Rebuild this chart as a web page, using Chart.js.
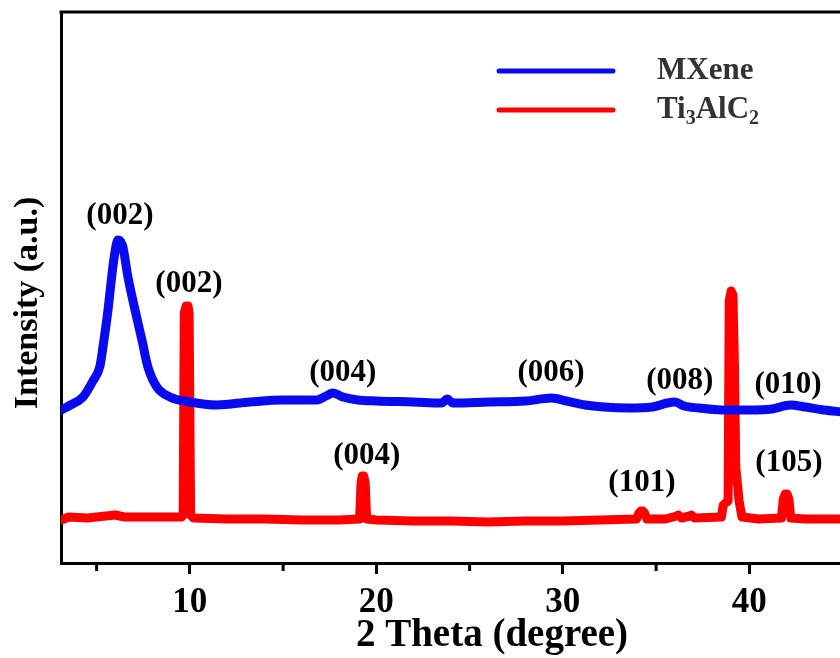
<!DOCTYPE html>
<html>
<head>
<meta charset="utf-8">
<script src="https://cdn.jsdelivr.net/npm/chart.js@4.4.1/dist/chart.umd.min.js"></script>
<style>
  html, body { margin: 0; padding: 0; background: #fff; }
  #wrap { width: 840px; height: 658px; position: relative; }
</style>
</head>
<body>
<div id="wrap"><canvas id="xrd"></canvas></div>
<script>
// MXene pattern (2 theta, intensity a.u.)
const mxeneTheta = [3.1, 3.6, 4.27, 4.8, 5.18, 5.34, 5.61, 5.87, 6.05, 6.15, 6.3, 6.41, 6.68, 7.06, 7.43, 7.75, 8.23, 8.93, 10.0, 11.45, 13.22, 14.99, 16.81, 17.3, 17.67, 18.2, 19.0, 20.0, 22.0, 23.5, 23.8, 24.1, 26.0, 28.0, 29.4, 30.2, 31.2, 32.2, 33.5, 34.8, 35.6, 36.0, 36.5, 37.3, 38.5, 40.0, 41.2, 42.2, 43.0, 44.0, 45.0];
const mxeneIntensity = [153, 158, 166, 182, 197, 216, 253, 296, 318, 323, 321, 316, 286, 253, 223, 196, 176, 166, 161, 158, 161, 163, 163, 167, 170, 166, 163, 162, 161, 160, 164, 160, 161, 162, 165, 162, 158, 156, 155, 156, 160, 161, 157, 155, 153, 153, 154, 158, 156, 153, 151];

// Ti3AlC2 pattern
const maxTheta = [3.1, 3.5, 4.5, 5.5, 6.0, 6.5, 7.5, 8.5, 9.55, 9.64, 9.7, 9.8, 9.9, 9.96, 10.04, 10.2, 12.0, 14.0, 16.0, 18.0, 19.1, 19.18, 19.24, 19.32, 19.4, 19.48, 20.0, 22.0, 24.0, 26.0, 28.0, 30.0, 32.0, 33.95, 34.08, 34.18, 34.28, 34.38, 34.5, 35.5, 36.1, 36.2, 36.35, 36.8, 36.9, 37.05, 38.5, 38.6, 38.72, 38.86, 38.92, 39.02, 39.12, 39.2, 39.27, 39.45, 39.6, 40.5, 41.72, 41.82, 41.92, 42.02, 42.12, 42.22, 43.0, 45.0];
const maxIntensity = [43, 46, 45, 47, 48, 46, 46, 46, 46, 48, 250, 257, 257, 250, 48, 45, 44, 44, 43, 43, 44, 80, 87, 87, 80, 44, 43, 42, 42, 41, 42, 42, 43, 44, 50, 52, 52, 50, 44, 44, 47, 48, 45, 47, 48, 45, 46, 58, 60, 62, 262, 272, 268, 200, 96, 62, 46, 44, 45, 64, 69, 69, 64, 45, 44, 44];

// peak indices: text, 2 theta of label, label height (a.u.)
const mxenePeaks = ['(002)', '(004)', '(006)', '(008)', '(010)'];
const mxenePeakTheta = [6.25, 18.2, 29.37, 36.27, 42.07];
const mxenePeakLevel = [347, 190, 190, 182, 178];
const maxPeaks = ['(002)', '(004)', '(101)', '(105)'];
const maxPeakTheta = [9.95, 19.49, 34.24, 42.12];
const maxPeakLevel = [279, 107, 80, 100];

const xTitle = '2 Theta (degree)';
const yTitle = 'Intensity (a.u.)';
const xMin = 3.09, xMax = 44.86;

const blue = '#0a0af0';
const red = '#ff0000';
const serif = '"Liberation Serif", "Times New Roman", serif';

let pts = (xs, ys) => xs.map((x, i) => ({ x: x, y: ys[i] }));

const extras = {
  id: 'extras',
  afterDraw(chart) {
    const ctx = chart.ctx;
    const a = chart.chartArea;
    const xs = chart.scales.x;
    const ys = chart.scales.y;
    ctx.save();
    // top frame line
    ctx.strokeStyle = '#000';
    ctx.lineWidth = 3;
    ctx.beginPath();
    ctx.moveTo(a.left - 1.5, a.top);
    ctx.lineTo(a.right, a.top);
    ctx.stroke();
    // minor ticks
    xs.ticks.forEach(t => {
      if (t.value % 10 !== 0) {
        let px = xs.getPixelForValue(t.value);
        ctx.beginPath();
        ctx.moveTo(px, a.bottom);
        ctx.lineTo(px, a.bottom + 8);
        ctx.stroke();
      }
    });
    // peak labels
    ctx.fillStyle = '#000';
    ctx.font = 'bold 31px ' + serif;
    ctx.textAlign = 'center';
    ctx.textBaseline = 'middle';
    mxenePeaks.forEach((s, i) => {
      ctx.fillText(s, xs.getPixelForValue(mxenePeakTheta[i]), ys.getPixelForValue(mxenePeakLevel[i]));
    });
    maxPeaks.forEach((s, i) => {
      ctx.fillText(s, xs.getPixelForValue(maxPeakTheta[i]), ys.getPixelForValue(maxPeakLevel[i]));
    });
    // axis titles
    ctx.font = 'bold 39px ' + serif;
    ctx.fillText(xTitle, a.left + 431, a.bottom + 73);
    ctx.save();
    ctx.translate(a.left - 33, a.top + 291);
    ctx.rotate(-Math.PI / 2);
    ctx.font = 'bold 34px ' + serif;
    ctx.fillText(yTitle, 0, 0);
    ctx.restore();
    // legend
    const ds = chart.data.datasets;
    const lx = a.left + 438, tx = a.left + 596;
    ds.forEach((d, i) => {
      let ly = a.top + 59 + i * 39;
      ctx.strokeStyle = d.borderColor;
      ctx.lineWidth = 5;
      ctx.lineCap = 'round';
      ctx.beginPath();
      ctx.moveTo(lx, ly);
      ctx.lineTo(lx + 114, ly);
      ctx.stroke();
      // digits in the label are drawn as subscripts
      ctx.fillStyle = '#333';
      ctx.textAlign = 'left';
      let cx = tx;
      d.label.split(/(\d)/).forEach(part => {
        if (part === '') return;
        if (/^\d$/.test(part)) {
          ctx.font = 'bold 20px ' + serif;
          ctx.fillText(part, cx, ly + 9);
        } else {
          ctx.font = 'bold 31px ' + serif;
          ctx.fillText(part, cx, ly);
        }
        cx += ctx.measureText(part).width;
      });
    });
    ctx.restore();
  }
};

const chart = new Chart(document.getElementById('xrd'), {
  type: 'line',
  data: {
    datasets: [
      {
        label: 'MXene',
        data: pts(mxeneTheta, mxeneIntensity),
        borderColor: blue,
        borderWidth: 9,
        pointRadius: 0,
        cubicInterpolationMode: 'monotone',
        borderJoinStyle: 'round',
        borderCapStyle: 'round'
      },
      {
        label: 'Ti3AlC2',
        data: pts(maxTheta, maxIntensity),
        borderColor: red,
        borderWidth: 9,
        pointRadius: 0,
        borderJoinStyle: 'round',
        borderCapStyle: 'round'
      }
    ]
  },
  options: {
    responsive: true,
    maintainAspectRatio: false,
    animation: false,
    layout: { padding: { top: 12, right: 0, left: 0, bottom: 0 } },
    plugins: { legend: { display: false }, tooltip: { enabled: false } },
    scales: {
      x: {
        type: 'linear',
        min: xMin,
        max: xMax,
        afterFit: (s) => { s.height = 95; },
        border: { display: true, color: '#000', width: 3 },
        grid: {
          display: true,
          drawOnChartArea: false,
          tickLength: 11,
          tickWidth: 3,
          tickColor: (c) => (c.tick && c.tick.value % 10 === 0 ? '#000' : 'rgba(0,0,0,0)')
        },
        ticks: {
          stepSize: 5,
          includeBounds: false,
          autoSkip: false,
          maxRotation: 0,
          padding: 8,
          color: '#000',
          font: { family: serif, size: 35, weight: 'bold' },
          callback: (v) => (v % 10 === 0 ? v : '')
        }
      },
      y: {
        min: 0,
        max: 551,
        afterFit: (s) => { s.width = 61; },
        border: { display: true, color: '#000', width: 3 },
        grid: { display: false },
        ticks: { display: false }
      }
    }
  },
  plugins: [extras]
});
</script>
</body>
</html>
